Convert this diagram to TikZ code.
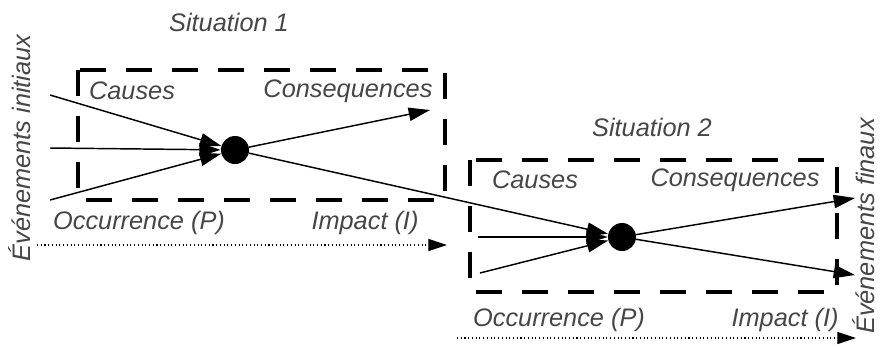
\documentclass[tikz,border=0pt]{standalone}
\usepackage{fontspec}
\setmainfont{Liberation Sans}
\usetikzlibrary{arrows.meta}
\definecolor{txtgray}{RGB}{70,70,70}
\begin{document}
\begin{tikzpicture}
	[x=0.75pt, y=-0.75pt,
	lbl/.style={text=txtgray, font=\fontsize{19}{21}\selectfont\itshape, inner sep=0pt},
	box/.style={line width=3pt, dash pattern=on 19.5pt off 15pt},
	dot/.style={circle, fill=black, minimum size=21pt, inner sep=0pt},
	arr/.style={line width=1.1pt, -{Triangle[length=16pt, width=10pt]}},
	timeline/.style={line width=0.8pt, dotted, -{Triangle[length=14pt, width=9pt]}}]
	\useasboundingbox (0,0) rectangle (881,347);
	\draw[box] (78,70) rectangle (445,200);
	\draw[box] (470,160) rectangle (837,292);
	\node[dot] (e1) at (235,150) {};
	\node[dot] (e2) at (622,237) {};
	\node[lbl] (sit1) at (229,22) {Situation 1};
	\node[lbl] (sit2) at (652,127) {Situation 2};
	\node[lbl] (causes1) at (132,91) {Causes};
	\node[lbl] (conseq1) at (348,91) {Consequences};
	\node[lbl] (occ1) at (139,223) {Occurrence (P)};
	\node[lbl] (imp1) at (365,223) {Impact (I)};
	\node[lbl] (causes2) at (535,180) {Causes};
	\node[lbl] (conseq2) at (735,180) {Consequences};
	\node[lbl] (occ2) at (559,320) {Occurrence (P)};
	\node[lbl] (imp2) at (785,320) {Impact (I)};
	\node[lbl, rotate=90] (init) at (20,148) {Événements initiaux};
	\node[lbl, rotate=90] (final) at (864,226) {Événements finaux};
	\coordinate (in1a) at (50,95);
	\coordinate (in1b) at (50,148);
	\coordinate (in1c) at (50,200);
	\coordinate (out1) at (430,110);
	\coordinate (in2b) at (478,237);
	\coordinate (in2c) at (480,273);
	\coordinate (out2a) at (855,198);
	\coordinate (out2b) at (855,275);
	\coordinate (t1a) at (37,245);
	\coordinate (t1b) at (447,245);
	\coordinate (t2a) at (457,338);
	\coordinate (t2b) at (856,338);
	\draw[arr] (in1a) -- (e1);
	\draw[arr] (in1b) -- (e1);
	\draw[arr] (in1c) -- (e1);
	\draw[arr] (e1) -- (out1);
	\draw[arr] (e1) -- (e2);
	\draw[arr] (in2b) -- (e2);
	\draw[arr] (in2c) -- (e2);
	\draw[arr] (e2) -- (out2a);
	\draw[arr] (e2) -- (out2b);
	\draw[timeline] (t1a) -- (t1b);
	\draw[timeline] (t2a) -- (t2b);
\end{tikzpicture}
\end{document}
